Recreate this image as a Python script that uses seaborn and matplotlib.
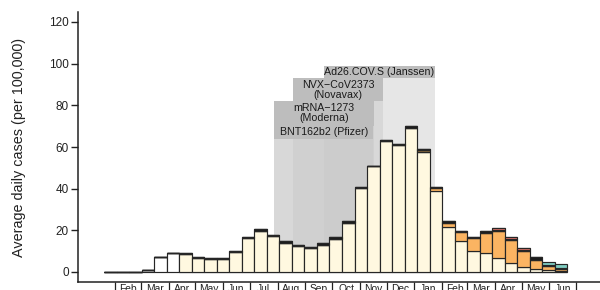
import pandas as pd
import matplotlib
matplotlib.use('Agg')
import matplotlib.pyplot as plt
import seaborn as sns

# biweekly reporting periods (first starts 2020-01-20)
period_start = pd.date_range('2020-01-20', periods=37, freq='14D')

unsequenced = [0, 0, 0, 1.0, 7.1, 9.3] + [0] * 31
other = [0, 0, 0, 0, 0, 0,
         8.8, 6.6, 6.2, 6.2, 9.7, 16.2, 19.6, 17.5, 14.1, 12.5, 11.4, 13.0,
         16.0, 23.6, 40.3, 50.8, 62.9, 60.8, 69.0, 57.7, 38.9, 21.6, 15.1,
         10.3, 8.9, 6.9, 4.2, 2.4, 1.4, 1.0, 0.5]
alpha = [0] * 26 + [1.3, 2.0, 4.0, 5.9, 9.8, 13.0, 11.1, 7.9, 4.4, 2.0, 0.8]
iota = [0] * 25 + [0.8] + [0] * 11
epsilon = [0, 0, 0, 0, 0, 0,
           0.2, 0.6, 0.6, 0.4, 0.6, 0.4, 0.8, 0.4, 0.7, 0.4, 0.4, 0.7,
           0.6, 0.7, 0.4, 0.3, 0.3, 0.8, 1.1, 0.4, 0.5, 0.7, 0.4,
           0.4, 0.8, 0.3, 0.5, 0.4, 1.2, 0.4, 0.5]
beta = [0] * 31 + [0.7, 0.8, 0.9, 0.3, 0, 0]
delta = [0] * 35 + [1.3, 2.0]

# bottom -> top
lineages = ['unsequenced', 'other', 'alpha', 'iota', 'epsilon', 'beta', 'delta']
series = [unsequenced, other, alpha, iota, epsilon, beta, delta]
colors = {'unsequenced': '#ffffff', 'other': '#fff8e0', 'alpha': '#fbb462',
          'iota': '#8c6a3c', 'epsilon': '#1c1c1c', 'beta': '#ef7a6e',
          'delta': '#80cdc1'}

trial_names = ['BNT162b2 (Pfizer)', 'mRNA\u22121273\n(Moderna)',
               'NVX\u2212CoV2373\n(Novavax)', 'Ad26.COV.S (Janssen)']
trial_start = ['2020-07-28', '2020-07-28', '2020-08-18', '2020-09-22']
trial_end = ['2020-11-16', '2020-11-17', '2020-11-27', '2021-01-24']
label_bottom = [64.0, 70.3, 81.9, 93.0]
label_top = [70.3, 81.9, 93.0, 98.8]

month_labels = ['Feb', 'Mar', 'Apr', 'May', 'Jun', 'Jul', 'Aug', 'Sep', 'Oct',
                'Nov', 'Dec', 'Jan', 'Feb', 'Mar', 'Apr', 'May', 'Jun']

origin = pd.Timestamp('2020-02-01')


def days(d):
    return (pd.Timestamp(d) - origin) / pd.Timedelta(days=1)


def main():
    sns.set_style('ticks')
    plt.rcParams['font.family'] = ['Liberation Sans', 'DejaVu Sans']

    starts = [days(d) for d in period_start]
    edges = starts + [starts[-1] + 14]
    centers = [s + 7 for s in starts]

    rows = []
    for name, vals in zip(lineages, series):
        for c, v in zip(centers, vals):
            rows.append({'day': c, 'cases': v, 'lineage': name})
    df = pd.DataFrame(rows)

    fig = plt.figure(figsize=(6, 2.9), dpi=100)
    ax = fig.add_axes([78 / 600, 8 / 290, 522 / 600, 270 / 290])

    # trial periods
    for name, s, e, lo, hi in zip(trial_names, trial_start, trial_end,
                                  label_bottom, label_top):
        x0, x1 = days(s), days(e)
        ax.fill_between([x0, x1], 0, lo, color='#c8c8c8', alpha=0.45,
                        lw=0, zorder=1)
        ax.fill_between([x0, x1], lo, hi, color='#bdbdbd', lw=0, zorder=2)
        ax.text((x0 + x1) / 2, (lo + hi) / 2, name, ha='center', va='center',
                fontsize=7.7, color='#1a1a1a', linespacing=1.0, zorder=3)

    sns.histplot(data=df, x='day', weights='cases', hue='lineage',
                 hue_order=lineages[::-1], palette=colors, bins=edges,
                 multiple='stack', shrink=1, alpha=1, edgecolor='#262626',
                 linewidth=0.85, legend=False, ax=ax, zorder=4)

    ax.set_xlim(-41.4, 542.7)
    ax.set_ylim(-4.8, 124.8)
    ax.set_yticks(range(0, 121, 20))
    ax.tick_params(axis='y', length=5, width=1, pad=1.5, labelsize=8.5,
                   colors='#222222')
    ax.set_ylabel('Average daily cases (per 100,000)', fontsize=10.4,
                  color='#222222')
    ax.yaxis.set_label_coords(-0.1, 0.5)

    month_edges = pd.date_range('2020-02-01', '2021-07-01', freq='MS')
    bounds = [days(d) for d in month_edges]
    mids = [(a + b) / 2 for a, b in zip(bounds[:-1], bounds[1:])]
    ax.set_xticks(bounds)
    ax.set_xticklabels([])
    ax.set_xticks(mids, minor=True)
    ax.set_xticklabels(month_labels, minor=True)
    ax.tick_params(axis='x', which='major', length=12, width=0.9,
                   color='#222222')
    ax.tick_params(axis='x', which='minor', length=0, pad=1.5, labelsize=7.4,
                   labelcolor='#222222')
    ax.set_xlabel('')

    sns.despine(ax=ax)
    for side in ['left', 'bottom']:
        ax.spines[side].set_linewidth(1.1)
        ax.spines[side].set_color('#222222')

    fig.savefig('out.png', dpi=100)


if __name__ == '__main__':
    main()
